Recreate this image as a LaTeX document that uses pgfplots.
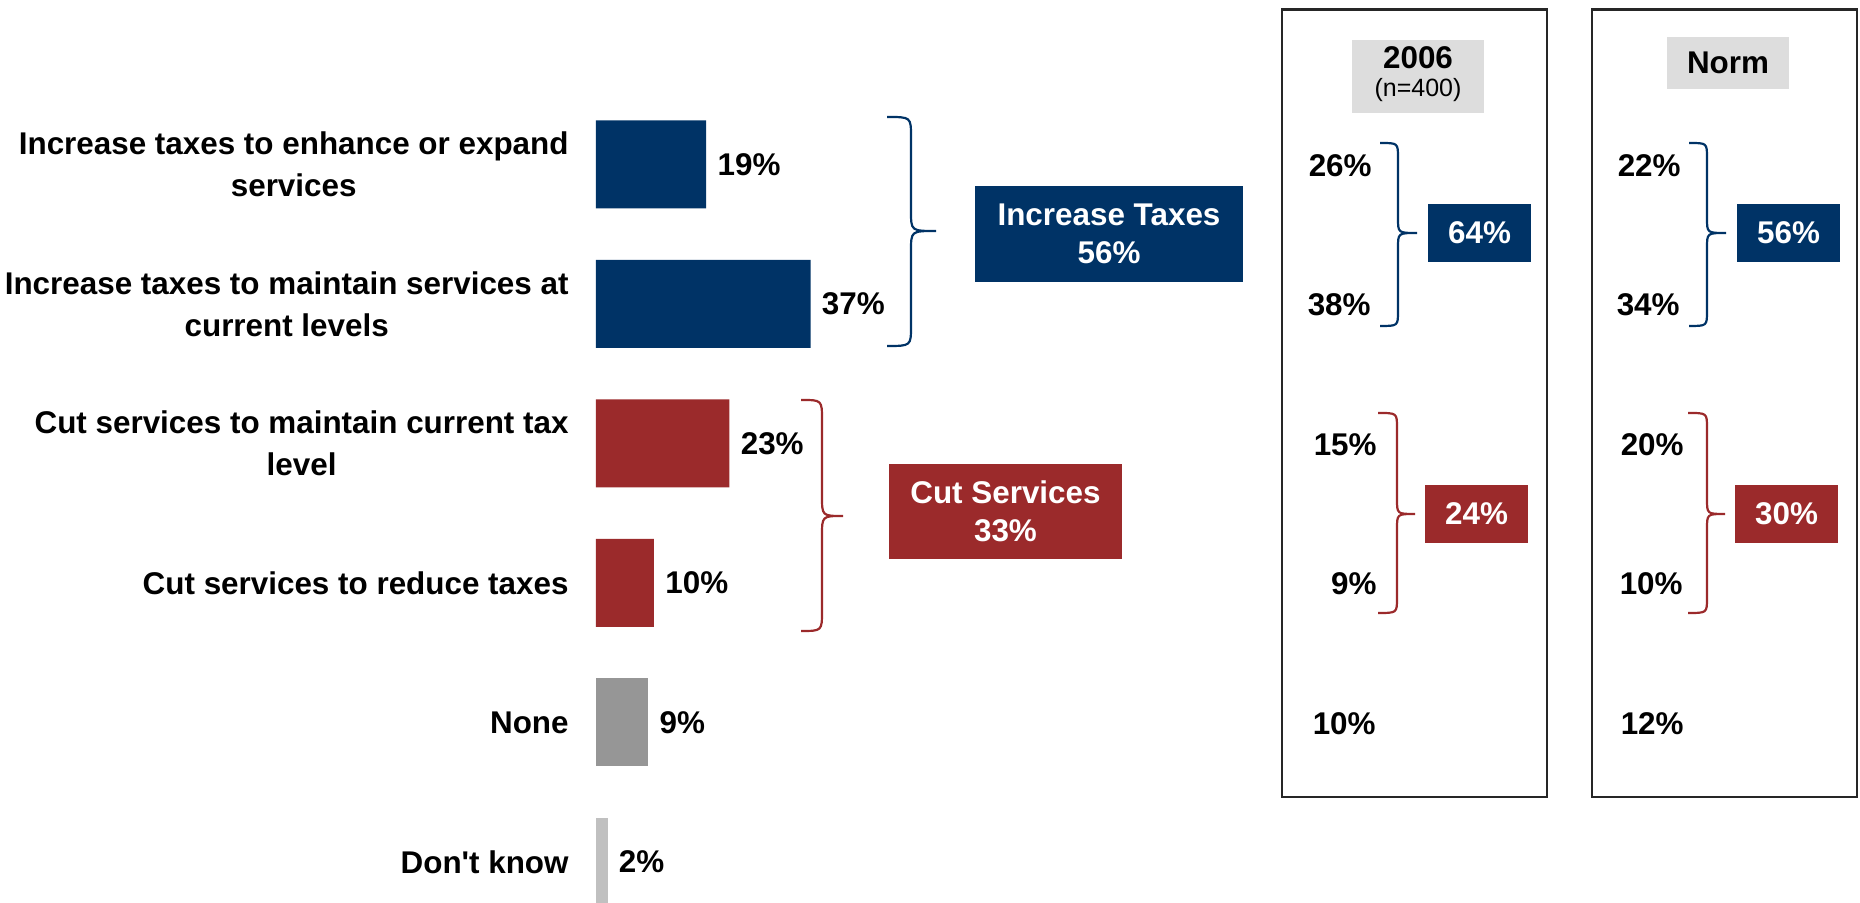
\documentclass[border=0pt]{standalone}
\usepackage{pgfplots}
\pgfplotsset{compat=1.18}
\usepackage{fontspec}
\setmainfont{Liberation Sans}
\definecolor{navy}{HTML}{003366}
\definecolor{brick}{HTML}{9B2A2B}
\definecolor{midgray}{HTML}{969696}
\definecolor{ltgray}{HTML}{C0C0C0}
\definecolor{hdrgray}{HTML}{DDDDDD}
\newcommand{\lbl}{\fontsize{15.7pt}{21pt}\selectfont\bfseries}
\newcommand{\val}{\fontsize{15.7pt}{19pt}\selectfont\bfseries}
% right curly brace in pixel units: color, x_end, x_straight, x_tip, y_top, y_tip, y_bottom, curve length
\newcommand{\rbr}[8]{\draw[#1,line width=1.1pt] (#2,#5) .. controls (#3,#5) .. ({#3},{#5+#8}) -- ({#3},{#6-#8}) .. controls (#3,#6) .. (#4,#6) .. controls (#3,#6) .. ({#3},{#6+#8}) -- ({#3},{#7-#8}) .. controls (#3,#7) .. (#2,#7);}
\begin{document}
\begin{tikzpicture}
\begin{axis}[
  at={(298pt,0pt)}, anchor=south west,
  scale only axis, width=290pt, height=418.5pt,
  xmin=0, xmax=100, ymin=-0.706, ymax=5.294, y dir=reverse,
  hide axis, clip=false,
  xbar, bar width=44pt,
  point meta=x,
  /pgf/number format/assume math mode=true,
  nodes near coords={\pgfmathprintnumber{\pgfplotspointmeta}\%},
  every node near coord/.append style={font=\val, anchor=west, inner sep=0pt, xshift=5.5pt, text=black},
]
\addplot[bar shift=0pt, fill=navy, draw=none] coordinates {(19,0) (37,1)};
\addplot[bar shift=0pt, fill=brick, draw=none] coordinates {(23,2) (10,3)};
\addplot[bar shift=0pt, fill=midgray, draw=none] coordinates {(9,4)};
\addplot[bar shift=0pt, fill=ltgray, draw=none] coordinates {(2,5)};
\node[anchor=east, align=center, font=\lbl, inner sep=0pt, xshift=-13.5pt] at (axis cs:0,0) {Increase taxes to enhance or expand\\services};
\node[anchor=east, align=center, font=\lbl, inner sep=0pt, xshift=-13.5pt] at (axis cs:0,1) {Increase taxes to maintain services at\\current levels};
\node[anchor=east, align=center, font=\lbl, inner sep=0pt, xshift=-13.5pt] at (axis cs:0,2) {Cut services to maintain current tax\\level};
\node[anchor=east, align=center, font=\lbl, inner sep=0pt, xshift=-13.5pt] at (axis cs:0,3) {Cut services to reduce taxes};
\node[anchor=east, align=center, font=\lbl, inner sep=0pt, xshift=-13.5pt] at (axis cs:0,4) {None};
\node[anchor=east, align=center, font=\lbl, inner sep=0pt, xshift=-13.5pt] at (axis cs:0,5) {Don\textquotesingle t know};
\end{axis}
\begin{scope}[x=0.5pt,y=-0.5pt,shift={(0pt,451.5pt)}]
% group braces and boxes
\rbr{navy}{887}{911}{936}{117}{231}{346}{20}
\rbr{brick}{801}{822}{843}{400}{516}{631}{20}
\fill[navy] (975,186) rectangle (1243,282);
\node[text=white, font=\fontsize{15.7pt}{19pt}\selectfont\bfseries, align=center] at (1109,234) {Increase Taxes\\56\%};
\fill[brick] (889,464) rectangle (1122,559);
\node[text=white, font=\fontsize{15.7pt}{19pt}\selectfont\bfseries, align=center] at (1005.5,511.5) {Cut Services\\33\%};
% frames
\draw[line width=1.2pt, black!85] (1282,9.5) rectangle (1547,797);
\draw[line width=1.2pt, black!85] (1592,9.5) rectangle (1857,797);
% headers
\fill[hdrgray] (1352,40) rectangle (1484,113);
\node[font=\val] at (1418,58) {2006};
\node[font=\fontsize{12.5pt}{15pt}\selectfont] at (1418,90) {(n=400)};
\fill[hdrgray] (1667,37) rectangle (1789,89);
\node[font=\val] at (1728,63) {Norm};
% 2006 column
\node[anchor=east, font=\val, inner sep=0pt] at (1372,165.5) {26\%};
\node[anchor=east, font=\val, inner sep=0pt] at (1371,305) {38\%};
\node[anchor=east, font=\val, inner sep=0pt] at (1377,444.5) {15\%};
\node[anchor=east, font=\val, inner sep=0pt] at (1377,584) {9\%};
\node[anchor=east, font=\val, inner sep=0pt] at (1376,723.5) {10\%};
\rbr{navy}{1380}{1398}{1417}{143}{233}{326}{15}
\rbr{brick}{1378}{1397}{1415}{413}{514}{613}{15}
\fill[navy] (1428,204) rectangle (1531,262);
\node[text=white, font=\val] at (1479.5,233) {64\%};
\fill[brick] (1425,485) rectangle (1528,543);
\node[text=white, font=\val] at (1476.5,514) {24\%};
% Norm column
\node[anchor=east, font=\val, inner sep=0pt] at (1681,165.5) {22\%};
\node[anchor=east, font=\val, inner sep=0pt] at (1680,305) {34\%};
\node[anchor=east, font=\val, inner sep=0pt] at (1684,444.5) {20\%};
\node[anchor=east, font=\val, inner sep=0pt] at (1683,584) {10\%};
\node[anchor=east, font=\val, inner sep=0pt] at (1684,723.5) {12\%};
\rbr{navy}{1689}{1707}{1726}{143}{233}{326}{15}
\rbr{brick}{1688}{1707}{1725}{413}{514}{613}{15}
\fill[navy] (1737,204) rectangle (1840,262);
\node[text=white, font=\val] at (1788.5,233) {56\%};
\fill[brick] (1735,485) rectangle (1838,543);
\node[text=white, font=\val] at (1786.5,514) {30\%};
\end{scope}
\pgfresetboundingbox
\useasboundingbox (0,0) rectangle (930pt,451.5pt);
\end{tikzpicture}
\end{document}
